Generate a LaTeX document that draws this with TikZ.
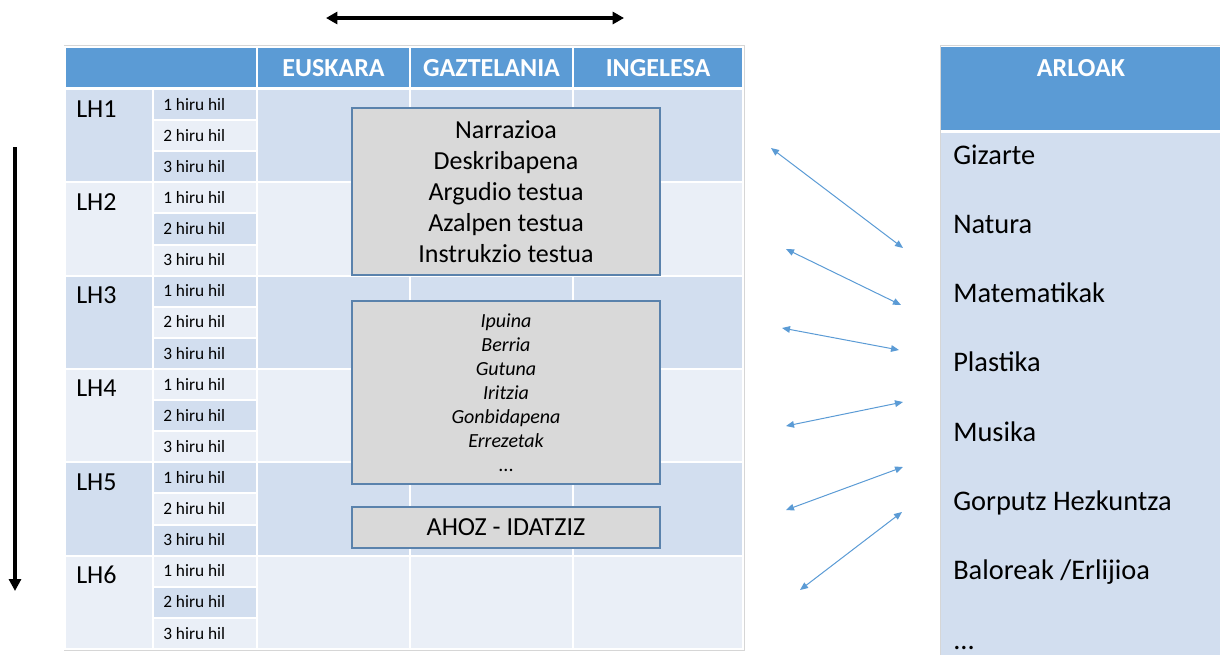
\documentclass[tikz,border=0pt]{standalone}
\usepackage{fontspec}
\setmainfont{Carlito}
\usetikzlibrary{arrows.meta}
\definecolor{hdr}{HTML}{5B9BD5}
\definecolor{rowc0}{HTML}{D2DEEF}
\definecolor{rowc1}{HTML}{EAEFF7}
\definecolor{boxfill}{HTML}{D9D9D9}
\definecolor{boxline}{HTML}{5A82AC}
\definecolor{tblline}{HTML}{D6D6D6}
\definecolor{arrblue}{HTML}{5B9BD5}
\newcommand\szBox{\fontsize{19.5}{23.25}\selectfont}
\newcommand\szItem{\fontsize{21.3}{25}\selectfont}
\newcommand\szSub{\fontsize{13}{15}\selectfont}
\newcommand\szIt{\fontsize{15}{18}\selectfont}
\newcommand\szHdr{\fontsize{19.5}{23}\selectfont}
\begin{document}
\begin{tikzpicture}[x=0.75pt,y=-0.75pt,
  cell/.style={draw=white,line width=1.5pt},
  hdrtext/.style={text=white,font=\szHdr\bfseries,inner sep=0pt,anchor=base},
  lhtext/.style={font=\szBox,inner sep=0pt,anchor=base west},
  subtext/.style={font=\szSub,inner sep=0pt,anchor=base west},
  itemtext/.style={font=\szItem,inner sep=0pt,anchor=base west},
  graybox/.style={draw=boxline,fill=boxfill,line width=0.9pt,inner sep=0pt,align=center},
  bigarrow/.style={line width=2.5pt,black},
  barrow/.style={arrblue,line width=0.75pt,{Triangle[length=6pt,width=5pt]}-{Triangle[length=6pt,width=5pt]}}
]
\useasboundingbox (0,0) rectangle (1220,654);
% ---------- main table ----------
\draw[tblline,line width=0.75pt] (64,45.5) rectangle (744,650);
\fill[hdr,cell] (65,46.5) rectangle (257,88);
\fill[hdr,cell] (257,46.5) rectangle (410,88);
\fill[hdr,cell] (410,46.5) rectangle (573,88);
\fill[hdr,cell] (573,46.5) rectangle (743,88);
\node[hdrtext] (hEus) at (333.5,76) {EUSKARA};
\node[hdrtext] (hGaz) at (491.5,76) {GAZTELANIA};
\node[hdrtext] (hIng) at (658,76) {INGELESA};
\foreach \g in {0,...,5}{
  \pgfmathsetmacro{\tp}{89+\g*93.33}
  \pgfmathsetmacro{\bt}{\tp+93.33}
  \pgfmathtruncatemacro{\gp}{mod(\g,2)}
  \pgfmathtruncatemacro{\lh}{\g+1}
  \fill[rowc\gp,cell] (65,\tp) rectangle (153,\bt);
  \fill[rowc\gp,cell] (257,\tp) rectangle (410,\bt);
  \fill[rowc\gp,cell] (410,\tp) rectangle (573,\bt);
  \fill[rowc\gp,cell] (573,\tp) rectangle (743,\bt);
  \node[lhtext] (lh\lh) at (76,{117+\g*93.33}) {LH\lh};
  \foreach \s in {0,1,2}{
    \pgfmathtruncatemacro{\sp}{mod(3*\g+\s,2)}
    \pgfmathtruncatemacro{\sn}{\s+1}
    \pgfmathsetmacro{\st}{\tp+\s*31.11}
    \pgfmathsetmacro{\sb}{\st+31.11}
    \fill[rowc\sp,cell] (153,\st) rectangle (257,\sb);
    \node[subtext] (sub\lh\sn) at (163,{\st+15.55+5.6}) {\sn{} hiru hil};
  }
}
% ---------- gray boxes ----------
\node[graybox,minimum width=231pt,minimum height=125.25pt,font=\szBox] (b1) at (506,191.5)
  {Narrazioa\\Deskribapena\\Argudio testua\\Azalpen testua\\Instrukzio testua};
\node[graybox,minimum width=231pt,minimum height=137.25pt,font=\szIt\itshape] (b2) at (506,392.5)
  {Ipuina\\Berria\\Gutuna\\Iritzia\\Gonbidapena\\Errezetak\\\upshape ...};
\node[graybox,minimum width=231pt,minimum height=30.75pt,font=\szBox] (b3) at (506,527.5)
  {AHOZ - IDATZIZ};
% ---------- right panel ----------
\draw[tblline,line width=0.75pt] (940,656) -- (940,45.5) -- (1222,45.5);
\fill[hdr] (941,46.5) rectangle (1222,130);
\fill[rowc0] (941,132.5) rectangle (1222,656);
\node[hdrtext] (arl) at (1081,76) {ARLOAK};
\node[itemtext] (i1) at (953,164) {Gizarte};
\node[itemtext] (i2) at (953,233.3) {Natura};
\node[itemtext] (i3) at (953,302.6) {Matematikak};
\node[itemtext] (i4) at (953,371.9) {Plastika};
\node[itemtext] (i5) at (953,441.2) {Musika};
\node[itemtext] (i6) at (953,510.5) {Gorputz Hezkuntza};
\node[itemtext] (i7) at (953,579.8) {Baloreak /Erlijioa};
\node[itemtext] (i8) at (953,649.1) {...};
% ---------- big arrows ----------
\coordinate (hL) at (326,18);
\coordinate (hR) at (624,18);
\draw[bigarrow,{Triangle[length=8.5pt,width=9pt]}-{Triangle[length=8.5pt,width=9pt]}] (hL) -- (hR);
\coordinate (vT) at (15,147);
\coordinate (vB) at (15,591);
\draw[bigarrow,-{Triangle[length=9pt,width=9pt]}] (vT) -- (vB);
% ---------- blue arrows ----------
\coordinate (a1s) at (771,148); \coordinate (a1e) at (903,248);
\coordinate (a2s) at (786,249); \coordinate (a2e) at (901,305);
\coordinate (a3s) at (782,328); \coordinate (a3e) at (899,350);
\coordinate (a4s) at (786,426); \coordinate (a4e) at (903,402);
\coordinate (a5s) at (786,510); \coordinate (a5e) at (903,467);
\coordinate (a6s) at (800,590); \coordinate (a6e) at (902,512);
\draw[barrow] (a1s) -- (a1e);
\draw[barrow] (a2s) -- (a2e);
\draw[barrow] (a3s) -- (a3e);
\draw[barrow] (a4s) -- (a4e);
\draw[barrow] (a5s) -- (a5e);
\draw[barrow] (a6s) -- (a6e);
\end{tikzpicture}
\end{document}
